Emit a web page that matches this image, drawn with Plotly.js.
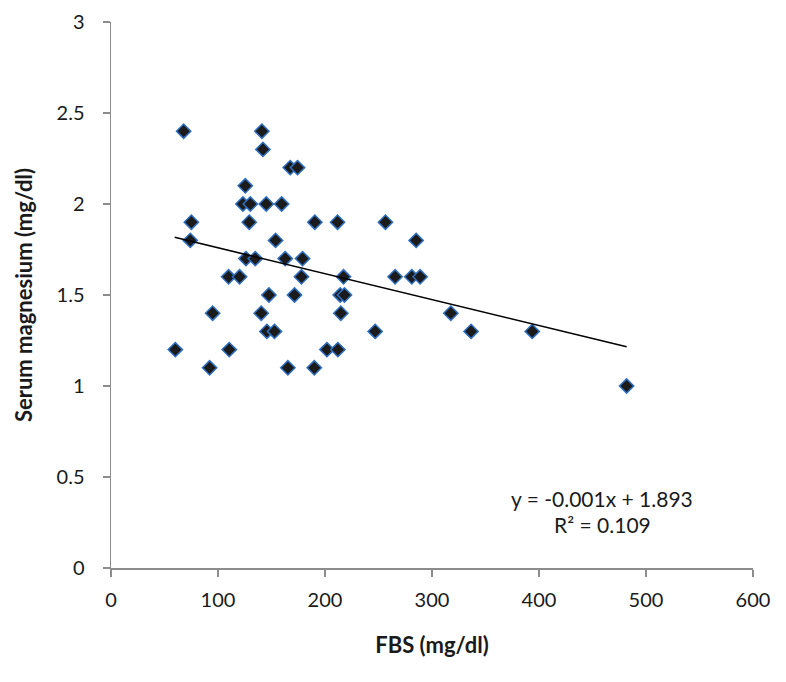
<!DOCTYPE html>
<html>
<head>
<meta charset="utf-8">
<script src="https://cdn.plot.ly/plotly-3.0.1.min.js"></script>
<style>html,body{margin:0;padding:0;background:#fff;}#chart{width:786px;height:682px;}</style>
</head>
<body>
<div id="chart"></div>
<script>
// FBS (mg/dl) values
const fbs = [67.9, 141, 142, 167.5, 174.3, 125.5, 123.3, 130.2, 145.1, 159.5,
             75.1, 129.2, 190.5, 211.7, 256.5, 74.1, 153.8, 285.2, 126.1, 134.8,
             162.8, 179, 109.9, 120.2, 178, 217.3, 265.5, 281.1, 288.9, 147.6,
             171.5, 214.2, 218.2, 95, 140.4, 214.8, 317.6, 145.7, 152.8, 246.9,
             336.5, 393.7, 60.1, 110.5, 201.8, 212, 92.2, 165.3, 190, 481.9];
// Serum magnesium (mg/dl) values
const mg = [2.4, 2.4, 2.3, 2.2, 2.2, 2.1, 2.0, 2.0, 2.0, 2.0,
            1.9, 1.9, 1.9, 1.9, 1.9, 1.8, 1.8, 1.8, 1.7, 1.7,
            1.7, 1.7, 1.6, 1.6, 1.6, 1.6, 1.6, 1.6, 1.6, 1.5,
            1.5, 1.5, 1.5, 1.4, 1.4, 1.4, 1.4, 1.3, 1.3, 1.3,
            1.3, 1.3, 1.2, 1.2, 1.2, 1.2, 1.1, 1.1, 1.1, 1.0];
// Linear trendline endpoints (as drawn)
const trendX = [59.5, 481.9];
const trendY = [1.817, 1.216];
const xTicks = [0, 100, 200, 300, 400, 500, 600];
const yTicks = [0, 0.5, 1, 1.5, 2, 2.5, 3];
const eqText = "y = -0.001x + 1.893";
const r2Text = "R² = 0.109";

const fontFam = "Lato, 'Open Sans', sans-serif";

const traces = [
  {
    x: fbs, y: mg, type: "scatter", mode: "markers",
    marker: {symbol: "diamond", size: 11, color: "#1b1b1b", line: {color: "#2f6fc0", width: 1.5}},
    showlegend: false, hoverinfo: "x+y"
  },
  {
    x: trendX, y: trendY, type: "scatter", mode: "lines",
    line: {color: "#000000", width: 1.6},
    showlegend: false, hoverinfo: "skip"
  }
];

const axisCommon = {
  showgrid: false, zeroline: false, showline: true,
  linecolor: "#8c8c8c", linewidth: 1.5,
  ticks: "outside", ticklen: 7, tickwidth: 1.5, tickcolor: "#8c8c8c",
  tickfont: {family: fontFam, size: 20, color: "#1a1a1a"},
  fixedrange: true
};

const layout = {
  width: 786, height: 682,
  margin: {l: 111, r: 33, t: 22, b: 114},
  paper_bgcolor: "#ffffff", plot_bgcolor: "#ffffff",
  xaxis: Object.assign({}, axisCommon, {
    range: [0, 600], tickvals: xTicks, ticktext: xTicks.map(String),
    ticklabelstandoff: 6,
    title: {text: "<b>FBS (mg/dl)</b>", font: {family: fontFam, size: 22, color: "#1a1a1a"}, standoff: 28}
  }),
  yaxis: Object.assign({}, axisCommon, {
    range: [0, 3], tickvals: yTicks, ticktext: yTicks.map(String),
    ticklabelstandoff: 14,
    title: {text: "<b>Serum magnesium (mg/dl)</b>", font: {family: fontFam, size: 22, color: "#1a1a1a"}, standoff: 18}
  }),
  annotations: []
};
// place annotations at pixel-derived paper coordinates
const plotL = 111, plotB = 568;
const plotW = 786 - 111 - 33, plotH = 682 - 22 - 114;
layout.annotations.push({
  xref: "paper", yref: "paper", x: (602 - plotL) / plotW, y: (plotB - 498) / plotH,
  xanchor: "center", yanchor: "middle", text: eqText, showarrow: false,
  font: {family: fontFam, size: 21, color: "#1a1a1a"}
});
layout.annotations.push({
  xref: "paper", yref: "paper", x: (602 - plotL) / plotW, y: (plotB - 524) / plotH,
  xanchor: "center", yanchor: "middle", text: r2Text, showarrow: false,
  font: {family: fontFam, size: 21, color: "#1a1a1a"}
});

Plotly.newPlot("chart", traces, layout, {displayModeBar: false, staticPlot: true});
</script>
</body>
</html>
